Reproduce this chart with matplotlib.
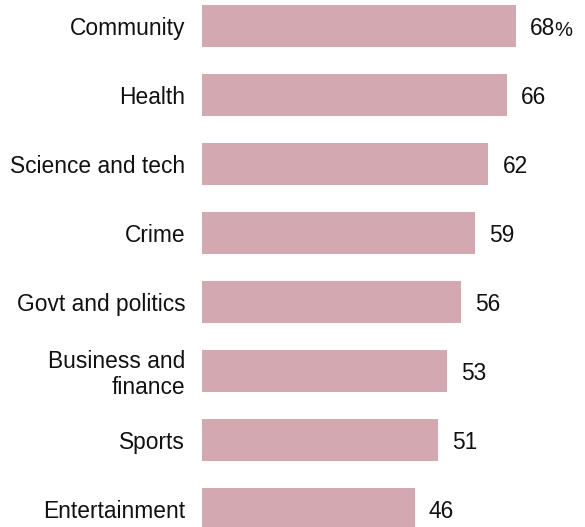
import matplotlib
matplotlib.use("Agg")
import matplotlib.pyplot as plt

# temas y porcentaje para cada uno
temas = ["Community", "Health", "Science and tech", "Crime",
         "Govt and politics", "Business and\nfinance", "Sports", "Entertainment"]
valores = [68, 66, 62, 59, 56, 53, 51, 46]

color_barra = "#d3a8b0"
fuente = "Liberation Sans"

fig = plt.figure(figsize=(5.85, 5.27), dpi=100)
ax = fig.add_axes([202 / 585, 0, 383 / 585, 1])

pos = list(range(len(temas)))
ax.barh(pos, valores, height=0.61, color=color_barra, edgecolor="none")

ax.set_xlim(0, 82.9)
ax.set_ylim(7.261, -0.377)

ax.set_yticks(pos)
ax.set_yticklabels(temas, fontsize=16.4, family=fuente, stretch="normal",
                   color="#111111", ha="right", linespacing=1.15)
ax.tick_params(axis="y", length=0, pad=12)
ax.set_xticks([])
for lado in ax.spines.values():
    lado.set_visible(False)

# etiquetas de valor al final de cada barra
for i, v in enumerate(valores):
    t = ax.annotate(str(v), xy=(v, i), xytext=(14, 0), textcoords="offset pixels",
                    ha="left", va="center_baseline", fontsize=16.4, family=fuente,
                    stretch="normal", color="#111111")
    if i == 0:
        ax.annotate("%", xy=(1, 0), xycoords=t, xytext=(-1, 0), textcoords="offset pixels",
                    ha="left", va="bottom", fontsize=14.5, family=fuente, color="#111111")

fig.savefig("out.png", dpi=100)
